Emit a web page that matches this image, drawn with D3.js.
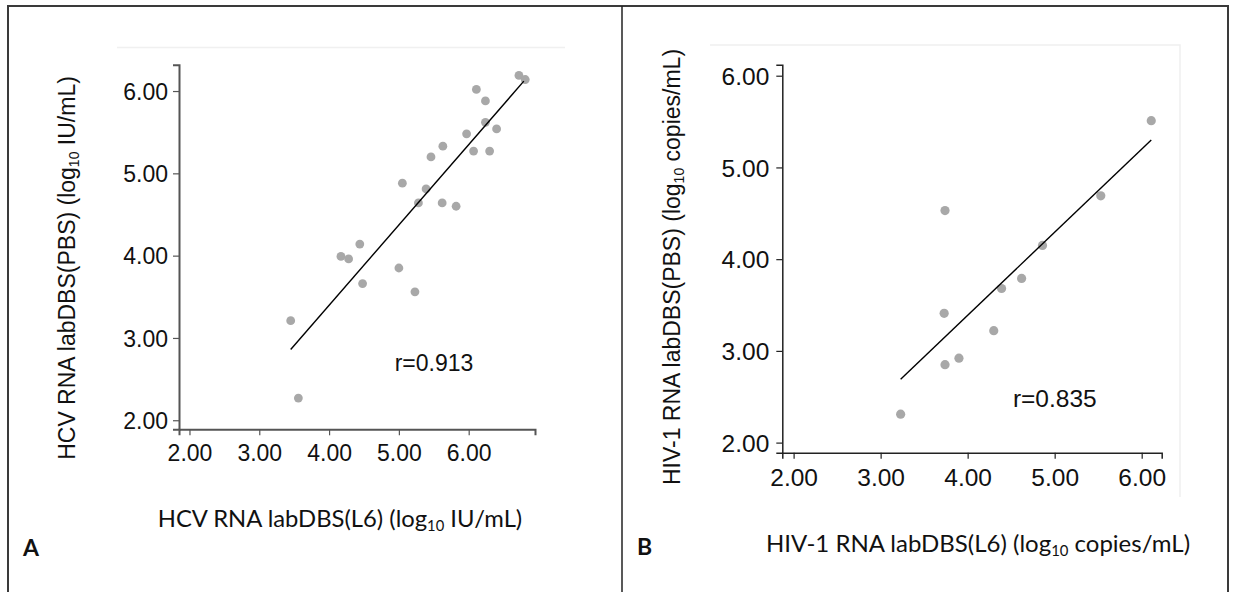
<!DOCTYPE html>
<html>
<head>
<meta charset="utf-8">
<script src="https://cdn.jsdelivr.net/npm/d3@7"></script>
<style>
  html, body { margin: 0; padding: 0; background: #fff; }
  svg { display: block; }
  .tick text { font-family: "Liberation Sans", Arial, sans-serif; fill: #111; }
</style>
</head>
<body>
<svg id="fig" width="1236" height="592"></svg>
<script>
// panel A: HCV, log10 IU/mL
const hcvL6  = [6.72, 6.81, 6.11, 6.24, 6.24, 6.40, 5.97, 6.07, 6.30, 5.63, 5.46, 5.05,
                5.39, 5.28, 5.62, 5.82, 4.44, 4.17, 4.28, 4.48, 5.00, 5.23, 3.45, 3.56];
const hcvPBS = [6.19, 6.14, 6.02, 5.88, 5.62, 5.54, 5.48, 5.27, 5.27, 5.33, 5.20, 4.88,
                4.81, 4.64, 4.64, 4.60, 4.14, 3.99, 3.96, 3.66, 3.85, 3.56, 3.21, 2.27];
const hcvFitX = [3.45, 6.79];
const hcvFitY = [2.86, 6.12];

// panel B: HIV-1, log10 copies/mL
const hivL6  = [6.11, 5.53, 3.74, 4.86, 4.62, 4.39, 3.73, 4.30, 3.90, 3.74, 3.23];
const hivPBS = [5.51, 4.69, 4.53, 4.15, 3.79, 3.68, 3.41, 3.22, 2.92, 2.85, 2.31];
const hivFitX = [3.23, 6.11];
const hivFitY = [2.69, 5.30];

const tickVals = [2, 3, 4, 5, 6];

const svg = d3.select('#fig');

// outer frame + divider
svg.append('rect').attr('x', 8).attr('y', 6).attr('width', 1220).attr('height', 600)
  .attr('fill', 'none').attr('stroke', '#3a3a3a').attr('stroke-width', 2);
svg.append('line').attr('x1', 622).attr('x2', 622).attr('y1', 6).attr('y2', 592)
  .attr('stroke', '#222').attr('stroke-width', 1.5);

function drawPanel(cfg) {
  const x = d3.scaleLinear().domain(cfg.xDomain).range(cfg.xRange);
  const y = d3.scaleLinear().domain(cfg.yDomain).range(cfg.yRange);
  const g = svg.append('g');

  // faint leftover plot frame
  g.append('path')
    .attr('d', `M${cfg.ghost[0]},${cfg.ghost[1]}H${cfg.ghost[2]}` + (cfg.ghost[3] ? `V${cfg.ghost[3]}` : ''))
    .attr('fill', 'none').attr('stroke', '#f0f0f0').attr('stroke-width', 1.5);

  const ax = g.append('g').attr('transform', `translate(0,${cfg.yRange[0]})`)
    .call(d3.axisBottom(x).tickValues(tickVals).tickFormat(d3.format('.2f'))
      .tickSizeOuter(0).tickSize(6).tickPadding(cfg.xPad));
  const ay = g.append('g').attr('transform', `translate(${cfg.xRange[0]},0)`)
    .call(d3.axisLeft(y).tickValues(tickVals).tickFormat(d3.format('.2f'))
      .tickSizeOuter(0).tickSize(6).tickPadding(cfg.yPad));
  [ax, ay].forEach(a => {
    a.select('.domain').attr('stroke', cfg.axisColor).attr('stroke-width', cfg.axisWidth);
    a.selectAll('.tick line').attr('stroke', cfg.axisColor).attr('stroke-width', 1.2);
    a.selectAll('.tick text').style('font-size', cfg.tickFont + 'px');
  });
  ay.selectAll('.tick text').attr('dy', '0.36em');

  g.selectAll('circle').data(cfg.xs).join('circle')
    .attr('cx', d => x(d)).attr('cy', (d, i) => y(cfg.ys[i]))
    .attr('r', cfg.r).attr('fill', '#a8a8a8');

  g.append('line')
    .attr('x1', x(cfg.fitX[0])).attr('y1', y(cfg.fitY[0]))
    .attr('x2', x(cfg.fitX[1])).attr('y2', y(cfg.fitY[1]))
    .attr('stroke', '#000').attr('stroke-width', 1.4);

  g.append('text').attr('x', x(cfg.rPos[0])).attr('y', y(cfg.rPos[1]))
    .style('font-family', '"Liberation Sans", Arial, sans-serif')
    .style('font-size', cfg.rFont + 'px').attr('fill', '#111').text(cfg.rText);

  // y title (Arial, rotated)
  const yt = g.append('text')
    .attr('transform', `translate(${cfg.yTitle[0]},${cfg.yTitle[1]}) rotate(-90)`)
    .attr('text-anchor', 'middle')
    .style('font-family', '"Liberation Sans", Arial, sans-serif')
    .style('font-size', '23px').attr('fill', '#111');
  yt.append('tspan').text(cfg.yPre);
  yt.append('tspan').attr('dy', 4).style('font-size', '14px').text('10');
  yt.append('tspan').attr('dy', -4).text(cfg.yPost);

  // x title (Calibri-like)
  const xt = g.append('text')
    .attr('x', cfg.xTitle[0]).attr('y', cfg.xTitle[1])
    .attr('text-anchor', 'middle')
    .style('font-family', 'Lato, "Open Sans", sans-serif')
    .style('font-size', cfg.xTitleFont + 'px').attr('fill', '#111');
  xt.append('tspan').text(cfg.xPre);
  xt.append('tspan').attr('dy', 4).style('font-size', (cfg.xTitleFont * 0.62) + 'px').text('10');
  xt.append('tspan').attr('dy', -4).text(cfg.xPost);

  svg.append('text').attr('x', cfg.letter[0]).attr('y', cfg.letter[1])
    .style('font-family', 'Lato, "Liberation Sans", sans-serif').style('font-weight', 'bold')
    .style('font-size', '23px').attr('fill', '#111').text(cfg.letterText);
}

drawPanel({
  xs: hcvL6, ys: hcvPBS, fitX: hcvFitX, fitY: hcvFitY,
  xDomain: [1.85, 6.95], xRange: [179, 535],
  yDomain: [1.89, 6.32], yRange: [429.3, 64.7],
  axisColor: '#555', axisWidth: 2, tickFont: 23, xPad: 9, yPad: 5, r: 4.4,
  rPos: [4.94, 2.6], rText: 'r=0.913', rFont: 23,
  ghost: [117, 47.5, 565],
  yTitle: [75, 268], yPre: 'HCV RNA labDBS(PBS) (log', yPost: ' IU/mL)',
  xTitle: [340, 527], xPre: 'HCV RNA labDBS(L6) (log', xPost: ' IU/mL)', xTitleFont: 23.8,
  letter: [23, 556], letterText: 'A'
});

drawPanel({
  xs: hivL6, ys: hivPBS, fitX: hivFitX, fitY: hivFitY,
  xDomain: [1.87, 6.23], xRange: [782.3, 1161.7],
  yDomain: [1.89, 6.12], yRange: [452.7, 64.7],
  axisColor: '#222', axisWidth: 1.5, tickFont: 24.5, xPad: 10, yPad: 7, r: 4.6,
  rPos: [4.52, 2.39], rText: 'r=0.835', rFont: 24.5,
  ghost: [710, 45, 1180, 497],
  yTitle: [680, 267], yPre: 'HIV-1 RNA labDBS(PBS) (log', yPost: ' copies/mL)',
  xTitle: [978, 552], xPre: 'HIV-1 RNA labDBS(L6) (log', xPost: ' copies/mL)', xTitleFont: 24,
  letter: [637, 555], letterText: 'B'
});
</script>
</body>
</html>
